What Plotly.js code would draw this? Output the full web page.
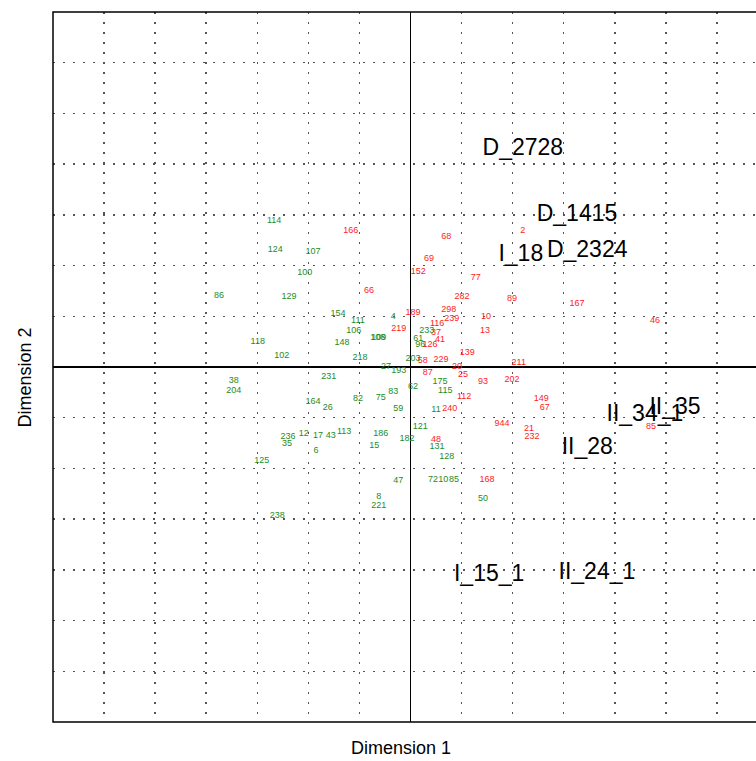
<!DOCTYPE html>
<html>
<head>
<meta charset="utf-8">
<script src="https://cdn.plot.ly/plotly-3.0.1.min.js"></script>
<style>html,body{margin:0;padding:0;background:#fff;}#chart{width:756px;height:761px;}</style>
</head>
<body>
<div id="chart"></div>
<script>
// Group 1 (green) row labels and coordinates
const greenLabels = ["114","124","107","100","86","129","154","111","4","106","148","108","109","118","102","218","231","38","204","164","26","82","75","83","59","236","35","12","17","43","113","186","15","182","6","125","47","8","221","238","233","61","96","203","27","193","62","175","115","11","121","131","128","72","10","85","50"];
const greenX = [-2.67,-2.65,-1.91,-2.07,-3.75,-2.38,-1.42,-1.03,-0.34,-1.11,-1.34,-0.64,-0.62,-2.99,-2.52,-0.99,-1.60,-3.46,-3.46,-1.91,-1.62,-1.03,-0.58,-0.34,-0.24,-2.40,-2.42,-2.09,-1.81,-1.56,-1.30,-0.58,-0.71,-0.07,-1.85,-2.91,-0.24,-0.62,-0.62,-2.61,0.32,0.15,0.19,0.05,-0.48,-0.23,0.05,0.58,0.68,0.50,0.19,0.52,0.71,0.44,0.64,0.85,1.42];
const greenY = [2.88,2.31,2.27,1.86,1.41,1.39,1.05,0.92,0.99,0.72,0.48,0.58,0.58,0.50,0.23,0.19,-0.19,-0.27,-0.46,-0.68,-0.80,-0.62,-0.60,-0.48,-0.82,-1.37,-1.51,-1.31,-1.35,-1.35,-1.27,-1.31,-1.55,-1.41,-1.66,-1.84,-2.25,-2.55,-2.73,-2.94,0.72,0.56,0.44,0.17,0.01,-0.07,-0.38,-0.29,-0.46,-0.84,-1.17,-1.58,-1.76,-2.23,-2.23,-2.23,-2.59];

// Group 2 (red) row labels and coordinates
const redLabels = ["166","66","2","68","69","152","77","282","89","167","46","10","13","298","239","116","189","219","41","126","37","58","229","87","139","20","25","211","202","93","112","240","149","67","944","21","232","48","168","85"];
const redX = [-1.17,-0.81,2.20,0.70,0.36,0.15,1.28,1.01,1.99,3.26,4.79,1.48,1.46,0.75,0.81,0.52,0.05,-0.23,0.58,0.38,0.50,0.24,0.60,0.34,1.11,0.91,1.03,2.12,1.99,1.42,1.05,0.77,2.56,2.63,1.79,2.32,2.38,0.50,1.50,4.71];
const redY = [2.69,1.51,2.69,2.57,2.14,1.88,1.76,1.39,1.35,1.25,0.92,0.99,0.72,1.13,0.95,0.86,1.07,0.76,0.54,0.44,0.68,0.13,0.15,-0.11,0.29,0.01,-0.15,0.09,-0.25,-0.29,-0.58,-0.82,-0.62,-0.80,-1.11,-1.21,-1.37,-1.43,-2.23,-1.17];

// Column (category) labels and coordinates
const bigLabels = ["D_2728","D_1415","I_18","D_2324","II_34_1","II_35","II_28","I_15_1","II_24_1"];
const bigX = [2.20,3.26,2.16,3.46,4.59,5.18,3.46,1.54,3.65];
const bigY = [4.30,3.00,2.20,2.29,-0.95,-0.82,-1.60,-4.11,-4.07];

const xTitle = "Dimension 1";
const yTitle = "Dimension 2";

const traces = [
  {x: greenX, y: greenY, text: greenLabels, mode: "text", type: "scatter",
   textposition: "middle center", textfont: {family: "Arial, Liberation Sans, sans-serif", size: 9, color: "#1e8c1e"},
   hoverinfo: "none", cliponaxis: true},
  {x: redX, y: redY, text: redLabels, mode: "text", type: "scatter",
   textposition: "middle center", textfont: {family: "Arial, Liberation Sans, sans-serif", size: 9, color: "#ff1a1a"},
   hoverinfo: "none", cliponaxis: true},
  {x: bigX, y: bigY, text: bigLabels, mode: "text", type: "scatter",
   textposition: "middle center", textfont: {family: "Arial, Liberation Sans, sans-serif", size: 23, color: "#000"},
   hoverinfo: "none", cliponaxis: true}
];

const axisCommon = {
  showticklabels: false, ticks: "", dtick: 1, tick0: 0,
  showgrid: true, gridcolor: "#555", gridwidth: 1.5, griddash: "1.5px,8.5px",
  zeroline: true, zerolinecolor: "#000", zerolinewidth: 1.8,
  showline: false, fixedrange: true
};

const layout = {
  width: 756, height: 761,
  margin: {l: 53, r: 0, t: 12, b: 39, pad: 0},
  paper_bgcolor: "#fff", plot_bgcolor: "#fff",
  showlegend: false,
  xaxis: Object.assign({}, axisCommon, {range: [-7, 6.765]}),
  yaxis: Object.assign({}, axisCommon, {range: [-7, 7]}),
  shapes: [
    {type: "rect", xref: "paper", yref: "paper", x0: 0, x1: 1.2, y0: 0, y1: 1,
     line: {color: "#000", width: 1.5}, fillcolor: "rgba(0,0,0,0)", layer: "above"}
  ],
  annotations: [
    {text: xTitle, xref: "paper", yref: "paper", x: 0.495, y: -0.037, xanchor: "center", yanchor: "middle",
     showarrow: false, font: {family: "Arial, Liberation Sans, sans-serif", size: 18, color: "#000"}},
    {text: yTitle, xref: "paper", yref: "paper", x: -0.04, y: 0.485, xanchor: "center", yanchor: "middle",
     textangle: -90, showarrow: false, font: {family: "Arial, Liberation Sans, sans-serif", size: 18, color: "#000"}}
  ]
};

Plotly.newPlot("chart", traces, layout, {displayModeBar: false, staticPlot: true});
</script>
</body>
</html>
